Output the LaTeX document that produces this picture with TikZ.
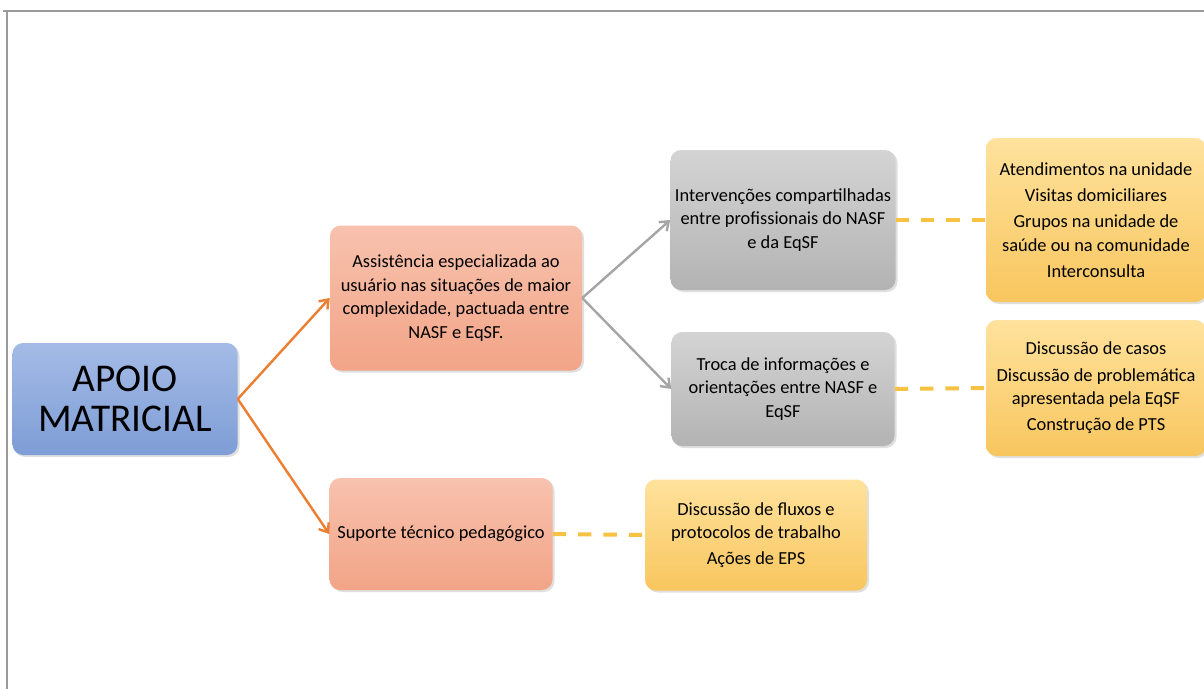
\documentclass[tikz,border=0pt]{standalone}
\usepackage{fontspec}
\setmainfont{Carlito}
\usetikzlibrary{arrows.meta,positioning,shadows}

\definecolor{apoiotop}{HTML}{A4BBE6}
\definecolor{apoiobot}{HTML}{7E9DD6}
\definecolor{salmontop}{HTML}{F8C2AE}
\definecolor{salmonbot}{HTML}{F2A487}
\definecolor{graytop}{HTML}{D4D4D4}
\definecolor{graybot}{HTML}{B3B3B3}
\definecolor{yellowtop}{HTML}{FFE29D}
\definecolor{yellowbot}{HTML}{F8C65E}
\definecolor{orangeline}{HTML}{ED7D31}
\definecolor{grayline}{HTML}{A5A5A5}
\definecolor{goldline}{HTML}{F5C242}
\definecolor{framegray}{HTML}{9A9A9A}

\begin{document}
\begin{tikzpicture}[x=0.75pt,y=-0.75pt,
  box/.style={rectangle,rounded corners=8pt,align=center,
    font=\fontsize{13.8}{17.6}\selectfont,
    drop shadow={opacity=0.25,shadow xshift=1.5pt,shadow yshift=-1.5pt}},
  boxsize/.style 2 args={minimum width=#1*0.75pt,minimum height=#2*0.75pt},
  apoio box/.style={box,top color=apoiotop,bottom color=apoiobot,
    font=\fontsize{29.5}{30}\selectfont},
  salmon box/.style={box,top color=salmontop,bottom color=salmonbot},
  gray box/.style={box,top color=graytop,bottom color=graybot},
  yellow box/.style={box,top color=yellowtop,bottom color=yellowbot},
  orange arrow/.style={-{Straight Barb[length=6pt,width=9pt]},orangeline,line width=1.8pt},
  gray arrow/.style={-{Straight Barb[length=6pt,width=9pt]},grayline,line width=1.8pt},
  gold dash/.style={goldline,line width=3pt,dash pattern=on 10pt off 9pt}]

  \useasboundingbox (0,0) rectangle (1204,689);
  \draw[framegray,line width=1.5pt] (3,11) -- (1204,11);
  \draw[framegray,line width=1.5pt] (7,11) -- (7,689);

  \node[apoio box,boxsize={225}{112}] (apoio) at (125,399) {APOIO\\MATRICIAL};

  \node[salmon box,boxsize={252}{145}] (assist) at (456,298)
    {Assistência especializada ao\\ usuário nas situações de maior\\
     complexidade, pactuada entre\\ NASF e EqSF.};
  \node[salmon box,boxsize={223}{112}] (suporte) at (441,534)
    {Suporte técnico pedagógico};

  \node[gray box,boxsize={223}{140}] (interv) at (783,220)
    {Intervenções compartilhadas\\ entre profissionais do NASF\\ e da EqSF};
  \node[gray box,boxsize={223}{114}] (troca) at (783,389)
    {Troca de informações e\\ orientações entre NASF e\\ EqSF};

  \node[yellow box,boxsize={220}{164}] (atend) at (1096,220)
    {Atendimentos na unidade\\[2pt] Visitas domiciliares\\[2pt]
     Grupos na unidade de\\ saúde ou na comunidade\\[2pt] Interconsulta};
  \node[yellow box,boxsize={220}{136}] (discuss) at (1096,388)
    {Discussão de casos\\[2pt] Discussão de problemática\\ apresentada pela EqSF\\[2pt]
     Construção de PTS};
  \node[yellow box,boxsize={222}{111}] (fluxos) at (756,535)
    {Discussão de fluxos e\\ protocolos de trabalho\\[2pt] Ações de EPS};

  \draw[orange arrow] (apoio.east) -- (assist.west);
  \draw[orange arrow] (apoio.east) -- (suporte.west);
  \draw[gray arrow] (assist.east) -- (interv.west);
  \draw[gray arrow] (assist.east) -- (troca.west);

  \draw[gold dash] (interv.east) -- (atend.west);
  \draw[gold dash] (troca.east) -- (discuss.west);
  \draw[gold dash] (suporte.east) -- (fluxos.west);
\end{tikzpicture}
\end{document}
